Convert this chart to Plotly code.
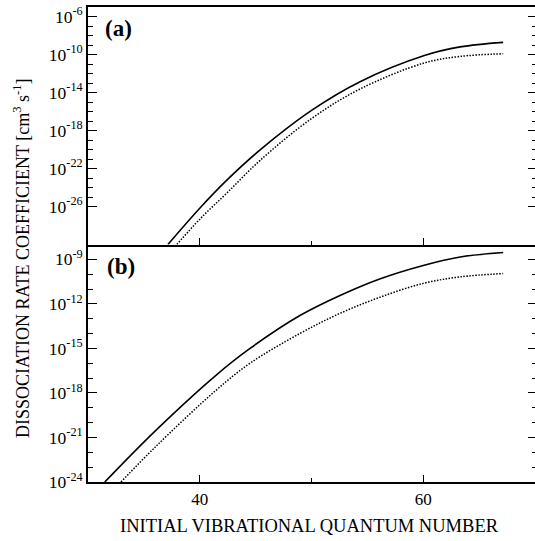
import plotly.graph_objects as go

# Initial vibrational quantum number v and dissociation rate coefficient k (cm^3 s^-1)
# Panel (a)
v_a_solid = [37.15, 40.0, 42.4, 45.4, 50.0, 54.3, 60.1, 63.3, 67.15]
k_a_solid = [1.0e-30, 6.6e-27, 5.6e-24, 9.1e-21, 1.3e-16, 1.3e-13, 7.8e-11, 6.3e-10, 1.9e-09]
v_a_dotted = [37.95, 40.0, 42.45, 45.4, 50.0, 54.3, 60.1, 63.3, 67.15]
k_a_dotted = [1.0e-30, 4.6e-28, 2.8e-25, 7.2e-22, 1.8e-17, 2.2e-14, 1.3e-11, 6.3e-11, 1.2e-10]

# Panel (b)
v_b_solid = [31.5, 36.0, 41.45, 44.5, 49.0, 52.55, 56.1, 60.0, 63.3, 67.15]
k_b_solid = [1.0e-24, 2.7e-21, 1.55e-17, 1.0e-15, 1.7e-13, 3.7e-12, 4.8e-11, 3.9e-10, 1.45e-09, 2.9e-09]
v_b_dotted = [32.95, 36.0, 41.45, 44.5, 49.0, 52.55, 56.1, 60.0, 63.3, 67.15]
k_b_dotted = [1.0e-24, 2.2e-22, 1.5e-18, 1.0e-16, 1.05e-14, 2.3e-13, 2.75e-12, 2.4e-11, 6.6e-11, 1.1e-10]

# Axis ticks
x_major = [40, 60]
x_minor = [50]
a_major_exp = [-6, -10, -14, -18, -22, -26]
a_minor_exp = [e for e in range(-26, -5) if e not in a_major_exp]
b_major_exp = [-9, -12, -15, -18, -21, -24]
b_minor_exp = [e for e in range(-24, -8) if e not in b_major_exp]

FONT = "Liberation Serif"
W, H = 535, 541
L, R, T, B = 88, 0, 7, 59

fig = go.Figure()

def add_pair(vs, ks, vd, kd, xa, ya):
    fig.add_trace(go.Scatter(x=vs, y=ks, mode="lines", xaxis=xa, yaxis=ya,
                             line=dict(color="black", width=1.6, shape="spline", smoothing=1.0),
                             showlegend=False, hoverinfo="skip"))
    fig.add_trace(go.Scatter(x=vd, y=kd, mode="lines", xaxis=xa, yaxis=ya,
                             line=dict(color="black", width=1.5, dash="1.5px,1.5px",
                                       shape="spline", smoothing=1.0),
                             showlegend=False, hoverinfo="skip"))

add_pair(v_b_solid, k_b_solid, v_b_dotted, k_b_dotted, "x", "y")
add_pair(v_a_solid, k_a_solid, v_a_dotted, k_a_dotted, "x2", "y2")

# invisible traces so the right-hand tick axes are drawn
fig.add_trace(go.Scatter(x=v_b_solid, y=k_b_solid, xaxis="x", yaxis="y3", mode="lines",
                         line=dict(width=0), showlegend=False, hoverinfo="skip"))
fig.add_trace(go.Scatter(x=v_a_solid, y=k_a_solid, xaxis="x2", yaxis="y4", mode="lines",
                         line=dict(width=0), showlegend=False, hoverinfo="skip"))

def exp_label(e):
    return "10<sup>%d</sup>" % e

xcommon = dict(range=[30, 70], showgrid=False, zeroline=False, showline=True,
               linecolor="black", linewidth=1.6, ticks="inside",
               tickvals=x_major, ticktext=[str(v) for v in x_major], ticklen=7, tickwidth=1.3,
               tickcolor="black",
               minor=dict(tickvals=x_minor, ticks="inside", ticklen=4, tickwidth=1.2, tickcolor="black"),
               tickfont=dict(family=FONT, size=17, color="black"))

def ycommon(rng, major, minor, left=True):
    d = dict(type="log", range=rng, showgrid=False, zeroline=False,
             ticks="inside", tickcolor="black",
             tickvals=[10.0 ** e for e in major],
             minor=dict(tickvals=[10.0 ** e for e in minor], ticks="inside",
                        ticklen=5 if left else 3.5, tickwidth=1.2, tickcolor="black"),
             ticklen=9 if left else 7, tickwidth=1.3)
    if left:
        d.update(showline=True, linecolor="black", linewidth=1.6, mirror=False,
                 ticktext=[exp_label(e) for e in major],
                 tickfont=dict(family=FONT, size=17.5, color="black"))
    else:
        d.update(showline=False, showticklabels=False, side="right")
    return d

fig.update_layout(
    width=W, height=H,
    margin=dict(l=L, r=R, t=T, b=B),
    paper_bgcolor="white", plot_bgcolor="white",
    xaxis=dict(domain=[0, 1], anchor="y", mirror=False, ticklabelstandoff=1, **xcommon),
    xaxis2=dict(domain=[0, 1], anchor="y2", mirror=True, showticklabels=False, **xcommon),
    yaxis=dict(domain=[0, 0.5], anchor="x", **ycommon([-24, -8], b_major_exp, b_minor_exp)),
    yaxis2=dict(domain=[0.5, 1], anchor="x2", **ycommon([-30, -5], a_major_exp, a_minor_exp)),
    yaxis3=dict(overlaying="y", anchor="x", **ycommon([-24, -8], b_major_exp, b_minor_exp, left=False)),
    yaxis4=dict(overlaying="y2", anchor="x2", **ycommon([-30, -5], a_major_exp, a_minor_exp, left=False)),
)

pw, ph = W - L - R, H - T - B

def px_to_paper(px, py):
    return (px - L) / pw, (H - B - py) / ph

def label(px, py, text, size, angle=0):
    x, y = px_to_paper(px, py)
    fig.add_annotation(x=x, y=y, xref="paper", yref="paper", xanchor="center", yanchor="middle",
                       text=text, showarrow=False, textangle=angle,
                       font=dict(family=FONT, size=size, color="black"))

label(118, 28, "<b>(a)</b>", 23)
label(121, 267, "<b>(b)</b>", 23)
label(309, 526, "INITIAL VIBRATIONAL QUANTUM NUMBER", 18.5)
label(21, 259, "DISSOCIATION RATE COEFFICIENT [cm<sup>3</sup> s<sup>-1</sup>]", 18, angle=-90)

fig.write_html("out.html")
